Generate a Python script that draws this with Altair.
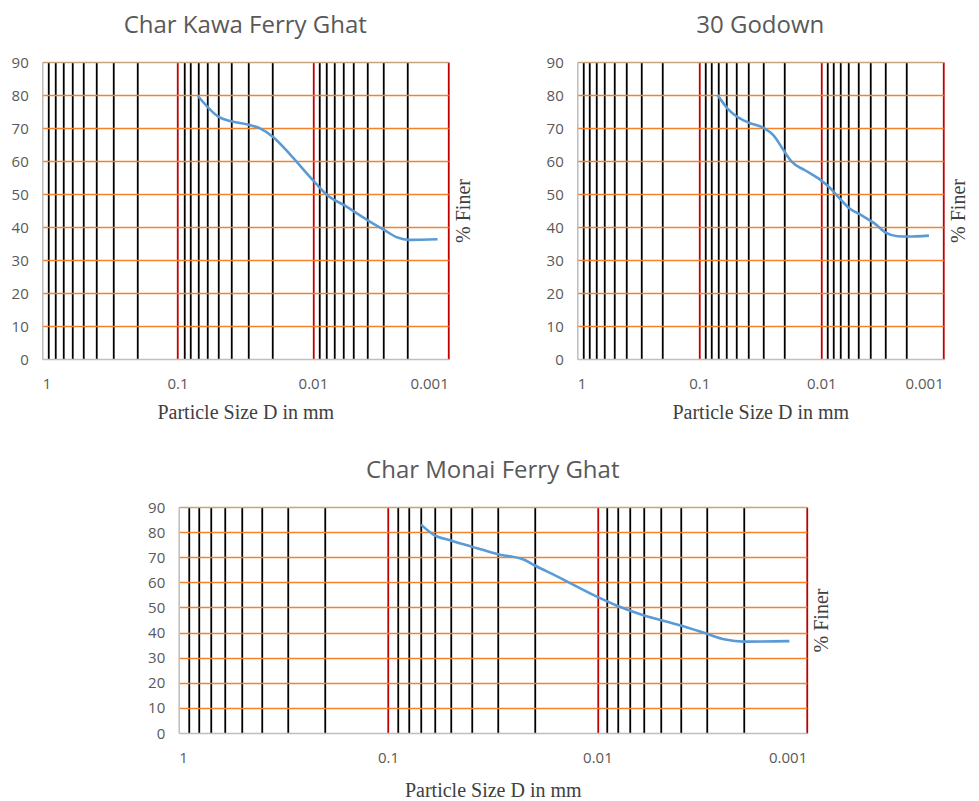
import altair as alt
import pandas as pd

# ---- data ----
kawa_d = [0.0707, 0.0497, 0.0407, 0.0298, 0.0244, 0.0197, 0.0146, 0.0100, 0.00783, 0.00589, 0.00396, 0.00298, 0.00237, 0.00195, 0.00120]
kawa_p = [79.7, 73.4, 72.1, 71.0, 69.8, 67.3, 61.8, 54.2, 49.6, 46.6, 42.1, 39.1, 36.8, 36.1, 36.3]

godown_d = [0.0710, 0.0570, 0.0503, 0.0392, 0.0296, 0.0246, 0.0204, 0.0174, 0.0136, 0.0101, 0.0085, 0.00705, 0.00585, 0.0047, 0.00366, 0.00294, 0.00237, 0.00196, 0.00131]
godown_p = [80.1, 75.4, 73.7, 71.6, 70.0, 67.8, 63.3, 59.7, 57.2, 54.2, 51.9, 48.6, 45.6, 43.6, 41.1, 38.2, 37.2, 37.1, 37.4]

monai_d = [0.0696, 0.0599, 0.0503, 0.0402, 0.0298, 0.0221, 0.0200, 0.0156, 0.0100, 0.0081, 0.00602, 0.00404, 0.00307, 0.00245, 0.00201, 0.00121]
monai_p = [83.0, 78.7, 76.7, 74.3, 71.2, 68.8, 66.8, 62.4, 54.2, 50.8, 46.9, 42.9, 39.8, 37.2, 36.4, 36.6]

x_grid_values = [1, 0.9, 0.8, 0.7, 0.6, 0.5, 0.4, 0.3, 0.2,
                 0.1, 0.09, 0.08, 0.07, 0.06, 0.05, 0.04, 0.03, 0.02,
                 0.01, 0.009, 0.008, 0.007, 0.006, 0.005, 0.004, 0.003, 0.002,
                 0.001]
decade_labels = [1, 0.1, 0.01, 0.001]
y_values = [0, 10, 20, 30, 40, 50, 60, 70, 80, 90]

titles = ["Char Kawa Ferry Ghat", "30 Godown", "Char Monai Ferry Ghat"]
x_title = "Particle Size D in mm"
y_title = "% Finer"

SANS = "Open Sans"
SERIF = "Liberation Serif"
GRAY = "#595959"

decade_test = "indexof([1, 0.1, 0.01, 0.001], datum.value) >= 0"


def panel(d, p, title, w, h, xtitle_pad):
    df = pd.DataFrame({"d": d, "p": p})
    yscale = alt.Scale(domain=[0, 90], nice=False)
    x = alt.X(
        "d:Q",
        scale=alt.Scale(type="log", domain=[0.001, 1], reverse=True, nice=False),
        axis=alt.Axis(
            values=x_grid_values,
            labelExpr=decade_test + " ? toString(datum.value) : ''",
            labelOverlap=False,
            labelFont=SANS, labelFontSize=15, labelColor=GRAY, labelPadding=17,
            ticks=False,
            domainColor="#bfbfbf", domainWidth=1.5,
            grid=True,
            gridColor={"condition": {"test": decade_test, "value": "#c00000"}, "value": "black"},
            gridOpacity={"condition": {"test": "datum.value == 1", "value": 0}, "value": 1},
            gridWidth=1.8,
            title=x_title, titleFont=SERIF, titleFontSize=20, titleFontWeight="normal",
            titleColor="#404040", titlePadding=xtitle_pad,
        ),
    )
    y = alt.Y(
        "p:Q",
        scale=yscale,
        axis=alt.Axis(
            values=y_values,
            labelFont=SANS, labelFontSize=15, labelColor=GRAY, labelPadding=14,
            ticks=False,
            domainColor="#bfbfbf", domainWidth=1.5,
            grid=True,
            gridColor={"condition": {"test": "datum.value == 90", "value": "#c9a47a"}, "value": "#f5822a"},
            gridOpacity={"condition": {"test": "datum.value == 0", "value": 0}, "value": 1},
            gridWidth=1.7,
            title=None,
        ),
    )
    line = alt.Chart(df).mark_line(
        color="#5b9bd5", strokeWidth=2.6, interpolate="monotone"
    ).encode(x=x, y=y)
    right = alt.Chart(df).mark_point(opacity=0).encode(
        y=alt.Y(
            "p:Q",
            scale=yscale,
            axis=alt.Axis(
                orient="right", labels=False, ticks=False, domain=False, grid=False,
                title=y_title, titleFont=SERIF, titleFontSize=20, titleFontWeight="normal",
                titleColor="#404040", titleAngle=270, titleBaseline="top", titlePadding=5,
            ),
        ),
    )
    return alt.layer(line, right).resolve_axis(y="independent").properties(
        width=w, height=h,
        title=alt.TitleParams(title, font=SANS, fontSize=24, fontWeight="normal",
                              color=GRAY, anchor="middle", offset=17),
    )


p1 = panel(kawa_d, kawa_p, titles[0], 406, 297, 11)
p2 = panel(godown_d, godown_p, titles[1], 366, 297, 11)
p3 = panel(monai_d, monai_p, titles[2], 628, 226, 15)

top = alt.hconcat(p1, p2, spacing=71)
chart = alt.vconcat(top, p3, spacing=35, center=True).properties(
    padding={"left": 2, "top": 5, "right": 0, "bottom": 0}
).configure_view(stroke=None).configure(background="white")

chart.save("out.html", embed_options={"renderer": "svg", "actions": False})
